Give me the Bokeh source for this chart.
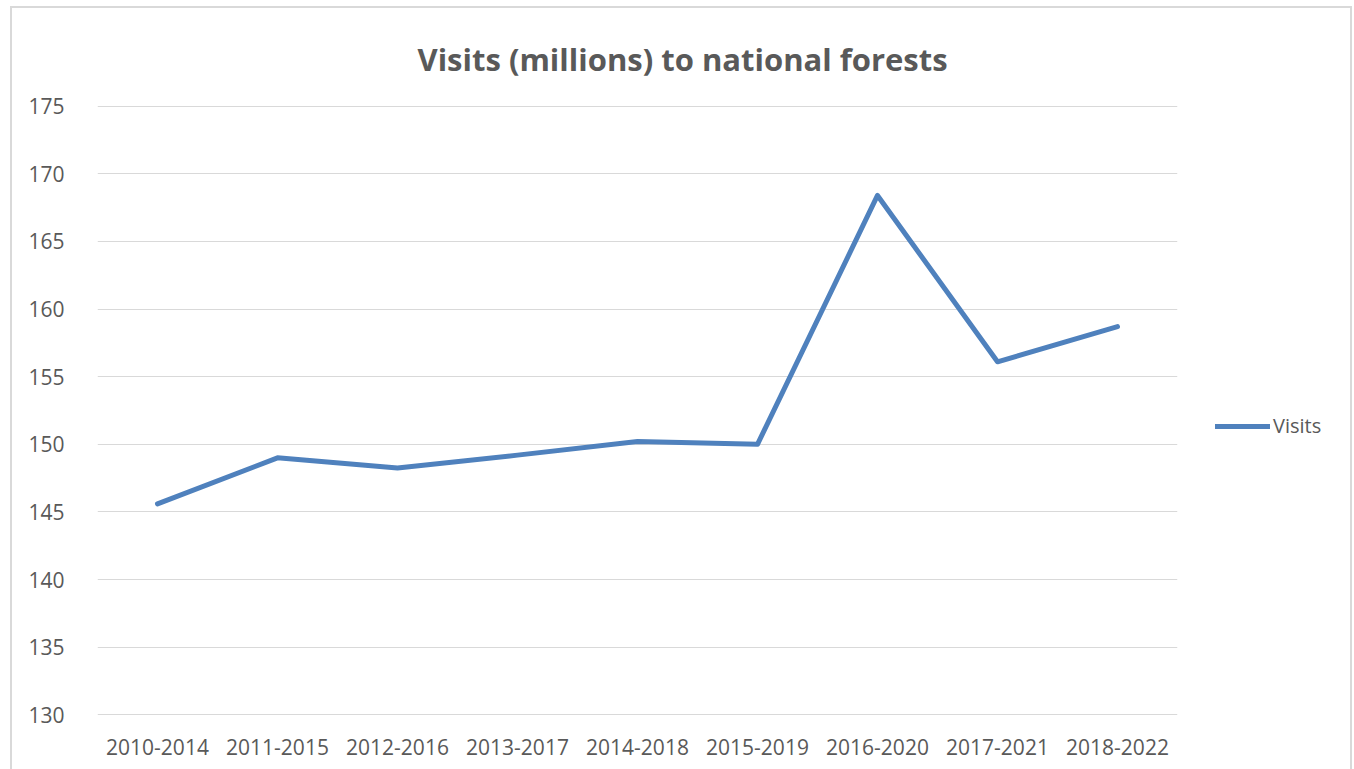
from bokeh.plotting import figure
from bokeh.models import Legend, LegendItem, FixedTicker, Range1d
from bokeh.embed import file_html
from bokeh.resources import INLINE

periods = ["2010-2014", "2011-2015", "2012-2016", "2013-2017", "2014-2018",
           "2015-2019", "2016-2020", "2017-2021", "2018-2022"]
visits = [145.6, 149.0, 148.25, 149.2, 150.2, 150.0, 168.4, 156.1, 158.7]
y_ticks = [130, 135, 140, 145, 150, 155, 160, 165, 170, 175]
title_text = "Visits (millions) to national forests"
series_name = "Visits"

FONT = "Open Sans"
GREY = "#595959"

p = figure(x_range=periods, y_range=Range1d(129.95, 175.05),
           frame_width=1080, frame_height=610,
           min_border_left=85, min_border_right=173,
           min_border_top=97, min_border_bottom=54,
           output_backend="svg", toolbar_location=None,
           background_fill_color="white", border_fill_color="white")
p.outline_line_color = None
p.styles = {"margin-left": "10px", "margin-top": "6px",
            "width": "1338px", "overflow": "hidden", "box-sizing": "content-box",
            "border-left": "2px solid #d9d9d9", "border-top": "2px solid #d9d9d9",
            "border-right": "2px solid #d9d9d9"}

p.title.text = title_text
p.title.align = "left"
p.title.offset = 320
p.title.standoff = 48
p.title.vertical_align = "top"
p.title.text_font = FONT
p.title.text_font_size = "31px"
p.title.text_font_style = "bold"
p.title.text_color = GREY

r = p.line(periods, visits, line_color="#4F81BD", line_width=5,
           line_join="round", line_cap="round")

p.yaxis.ticker = FixedTicker(ticks=y_ticks)
for ax in (p.xaxis[0], p.yaxis[0]):
    ax.axis_line_color = None
    ax.major_tick_line_color = None
    ax.minor_tick_line_color = None
    ax.major_label_text_font = FONT
    ax.major_label_text_color = GREY
p.yaxis.major_label_text_font_size = "21px"
p.xaxis.major_label_text_font_size = "21px"
p.yaxis.major_label_standoff = 27
p.xaxis.major_label_standoff = 17
p.xgrid.grid_line_color = None
p.ygrid.grid_line_color = "#d9d9d9"
p.ygrid.grid_line_width = 1

legend = Legend(items=[LegendItem(label=series_name, renderers=[r])],
                location="left", padding=0, margin=38, spacing=0,
                glyph_width=55, glyph_height=24, label_height=24,
                label_standoff=3, label_text_font=FONT,
                label_text_font_size="20px", label_text_color=GREY,
                title=" ", title_text_font_size="20px", title_standoff=8,
                border_line_color=None, background_fill_alpha=0)
p.add_layout(legend, "right")

open("out.html", "w").write(file_html(p, INLINE))
